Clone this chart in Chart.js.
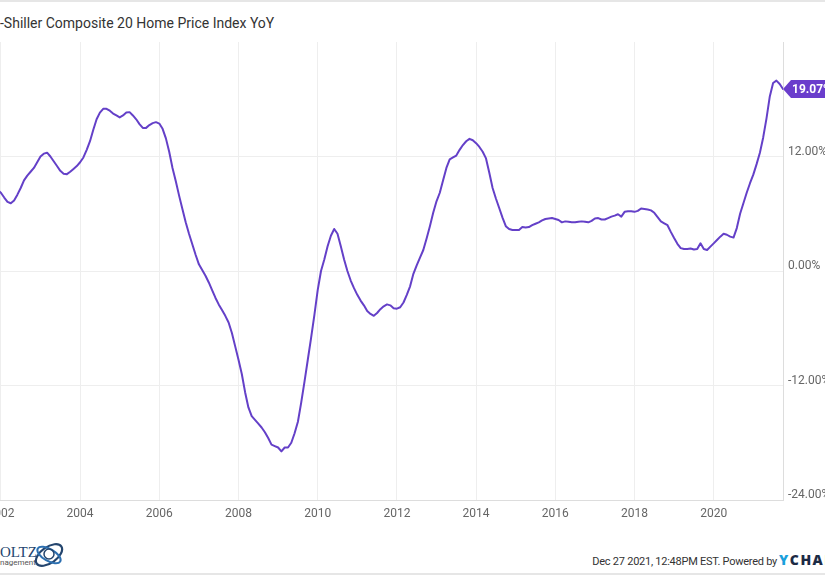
<!DOCTYPE html>
<html>
<head>
<meta charset="utf-8">
<script src="https://cdn.jsdelivr.net/npm/chart.js@4.4.0/dist/chart.umd.min.js"></script>
<style>
  html,body{margin:0;padding:0;background:#fff;overflow:hidden;}
  body{width:825px;height:575px;position:relative;font-family:Roboto, "Open Sans", sans-serif;}
  #topline{position:absolute;left:0;top:0;width:825px;height:2px;background:#e6e6e6;}
  #bottomline{position:absolute;left:0;top:573px;width:825px;height:2px;background:#e6e6e6;}
  #title{position:absolute;left:0;top:15px;font-size:14px;color:#333;white-space:nowrap;}
  #title .off{position:absolute;right:100%;}
  #chartWrap{position:absolute;left:-30px;top:0;width:880px;height:540px;}
  #footer{position:absolute;right:48px;top:555px;font-size:11px;letter-spacing:-0.25px;color:#333;white-space:nowrap;}
  #ych{position:absolute;left:779px;top:550px;font-size:14px;font-weight:800;letter-spacing:1.5px;white-space:nowrap;color:#1c2b45;font-family:"Open Sans",Roboto,sans-serif;}
  #ych .y{color:#1aa0dc;}
  #logo{position:absolute;left:0;top:544px;white-space:nowrap;}
  #logo .name{position:absolute;top:0;left:0;font-family:"Liberation Serif",serif;font-size:15px;color:#24456e;}
  #logo .name .off{position:absolute;right:100%;}
  #logo .sub{position:absolute;top:14px;left:0;font-family:Roboto,sans-serif;font-size:8px;color:#555;}
  #logo .sub .off{position:absolute;right:100%;}
  #logo svg{position:absolute;left:32px;top:-5px;}
</style>
</head>
<body>
<div id="topline"></div>
<div id="title"><span class="off">Case</span>-Shiller Composite 20 Home Price Index YoY</div>
<div id="chartWrap"><canvas id="c" width="880" height="540"></canvas></div>
<div id="logo">
  <div class="name"><span class="off">H</span>OLTZ</div>
  <div class="sub"><span class="off">Ma</span>nagement</div>
  <svg width="34" height="32" viewBox="0 0 34 32">
    <ellipse cx="17" cy="16" rx="15" ry="8" fill="none" stroke="#24456e" stroke-width="2.2" transform="rotate(-35 17 16)"/>
    <ellipse cx="17" cy="16" rx="13" ry="6" fill="none" stroke="#2c6fb0" stroke-width="2" transform="rotate(30 17 16)"/>
    <circle cx="17" cy="15" r="5" fill="none" stroke="#24456e" stroke-width="1.5"/>
  </svg>
</div>
<div id="footer">Dec 27 2021, 12:48PM EST. Powered by</div>
<div id="ych"><span class="y">Y</span>CHARTS</div>
<div id="bottomline"></div>
<script>
// ---- Data (month-end values, first value = Sep 2001) ----
const firstYear = 2001;
const firstMonth = 9;
const yoyPct = [
  // 2001 Sep-Dec
  9.0, 8.8, 8.5, 8.2,
  // 2002
  7.7, 7.25, 7.1, 7.4, 8.0, 8.7, 9.5, 10.0, 10.4, 10.8, 11.4, 12.0,
  // 2003
  12.3, 12.4, 12.0, 11.5, 11.0, 10.5, 10.2, 10.15, 10.4, 10.7, 11.0, 11.4,
  // 2004
  11.9, 12.7, 13.6, 14.8, 15.9, 16.6, 17.0, 17.0, 16.8, 16.5, 16.3, 16.1,
  // 2005
  16.3, 16.6, 16.65, 16.3, 15.9, 15.4, 15.0, 15.0, 15.3, 15.5, 15.6, 15.45,
  // 2006
  14.9, 13.9, 12.5, 10.8, 9.4, 7.9, 6.5, 5.1, 3.9, 2.8, 1.7, 0.7,
  // 2007
  0.1, -0.5, -1.2, -2.0, -2.8, -3.5, -4.1, -4.7, -5.4, -6.5, -7.9, -9.3,
  // 2008
  -10.8, -12.7, -14.3, -15.2, -15.6, -16.0, -16.4, -16.9, -17.5, -18.2, -18.35, -18.5,
  // 2009
  -18.9, -18.5, -18.5, -18.0, -17.0, -15.8, -13.8, -11.6, -9.3, -7.0, -4.6, -2.0,
  // 2010
  0.0, 1.2, 2.6, 3.7, 4.4, 3.9, 2.6, 1.2, 0.0, -1.0, -1.8, -2.5,
  // 2011
  -3.1, -3.6, -4.2, -4.5, -4.7, -4.4, -4.0, -3.7, -3.5, -3.6, -3.9, -3.95,
  // 2012
  -3.8, -3.3, -2.5, -1.6, -0.3, 0.6, 1.4, 2.2, 3.4, 4.7, 6.1, 7.3,
  // 2013
  8.2, 9.5, 10.8, 11.7, 11.9, 12.1, 12.7, 13.2, 13.6, 13.85, 13.7, 13.4,
  // 2014
  13.0, 12.5, 11.8, 10.3, 8.7, 7.6, 6.6, 5.6, 4.7, 4.4, 4.3, 4.3,
  // 2015
  4.3, 4.6, 4.55, 4.6, 4.8, 4.95, 5.1, 5.3, 5.45, 5.5, 5.55, 5.45,
  // 2016
  5.35, 5.1, 5.2, 5.15, 5.1, 5.1, 5.15, 5.2, 5.15, 5.1, 5.25, 5.5,
  // 2017
  5.55, 5.4, 5.4, 5.55, 5.7, 5.8, 5.95, 5.7, 6.2, 6.25, 6.25, 6.2,
  // 2018
  6.3, 6.55, 6.5, 6.45, 6.35, 6.1, 5.65, 5.2, 5.0, 4.8, 4.1, 3.45,
  // 2019
  2.85, 2.4, 2.3, 2.3, 2.35, 2.25, 2.3, 2.9, 2.3, 2.2, 2.55, 2.9,
  // 2020
  3.25, 3.6, 3.9, 3.8, 3.6, 3.5, 4.5, 6.0, 7.1, 8.2, 9.2, 10.1,
  // 2021 Jan-Sep
  11.2, 12.4, 14.0, 16.0, 18.3, 19.7, 19.95, 19.6, 19.07
];
const xTickYears = [2002, 2004, 2006, 2008, 2010, 2012, 2014, 2016, 2018, 2020];
const yTickValues = [-24, -12, 0, 12];
const yMin = -24;
const yMax = 24;

// ---- Build points (x = fractional year at month end) ----
const points = yoyPct.map((v, i) => ({ x: firstYear + (firstMonth + i) / 12, y: v }));
const xMin = points[0].x;
const xMax = points[points.length - 1].x;

const lineColor = '#6440c8';
const tagColor = '#6a3dcc';

const lastTag = {
  id: 'lastTag',
  afterDatasetsDraw(chart) {
    const ctx = chart.ctx;
    const last = points[points.length - 1];
    const px = chart.scales.x.getPixelForValue(last.x);
    const py = chart.scales.y.getPixelForValue(last.y);
    const h = 18;
    ctx.save();
    ctx.fillStyle = tagColor;
    ctx.beginPath();
    ctx.moveTo(px, py);
    ctx.lineTo(px + 8, py - h / 2);
    ctx.lineTo(chart.width, py - h / 2);
    ctx.lineTo(chart.width, py + h / 2);
    ctx.lineTo(px + 8, py + h / 2);
    ctx.closePath();
    ctx.fill();
    ctx.fillStyle = '#fff';
    ctx.font = 'bold 12px Roboto';
    ctx.textBaseline = 'middle';
    ctx.textAlign = 'left';
    ctx.fillText(last.y.toFixed(2) + '%', px + 9, py + 1);
    ctx.restore();
  }
};

new Chart(document.getElementById('c'), {
  type: 'line',
  data: {
    datasets: [{
      data: points,
      borderColor: lineColor,
      borderWidth: 2,
      pointRadius: 0,
      tension: 0,
      fill: false,
      borderJoinStyle: 'round',
      borderCapStyle: 'round'
    }]
  },
  options: {
    responsive: false,
    animation: false,
    devicePixelRatio: 1,
    layout: { padding: { left: 21, top: 42, right: 0, bottom: 0 } },
    plugins: { legend: { display: false }, tooltip: { enabled: false } },
    scales: {
      x: {
        type: 'linear',
        min: xMin,
        max: xMax,
        afterBuildTicks: s => { s.ticks = xTickYears.map(v => ({ value: v })); },
        afterFit: s => { s.height = 40; },
        grid: { color: '#eeeeee', drawTicks: false },
        border: { color: '#dddddd' },
        ticks: {
          padding: 7,
          color: '#666',
          font: { family: 'Roboto', size: 12 },
          maxRotation: 0,
          autoSkip: false,
          callback: v => String(v)
        }
      },
      y: {
        position: 'right',
        min: yMin,
        max: yMax,
        afterBuildTicks: s => { s.ticks = yTickValues.map(v => ({ value: v })); },
        afterFit: s => { s.width = 67; },
        grid: { color: '#eeeeee', drawTicks: false },
        border: { color: '#dddddd' },
        ticks: {
          padding: 5,
          labelOffset: -5,
          color: '#666',
          font: { family: 'Roboto', size: 12 },
          callback: v => v.toFixed(2) + '%'
        }
      }
    }
  },
  plugins: [lastTag]
});
</script>
</body>
</html>
